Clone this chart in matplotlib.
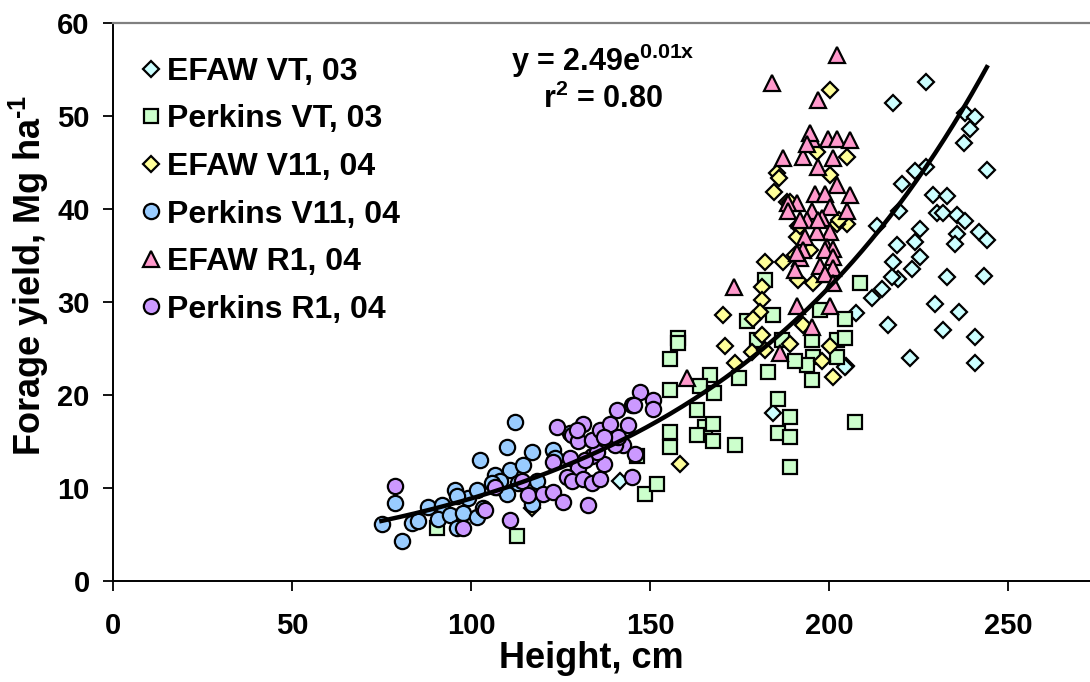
import matplotlib
matplotlib.use("Agg")
import matplotlib.pyplot as plt
import numpy as np

plt.rcParams['font.family'] = ['Liberation Sans', 'DejaVu Sans']
plt.rcParams['font.weight'] = 'bold'
plt.rcParams['mathtext.fontset'] = 'custom'
plt.rcParams['mathtext.rm'] = 'Liberation Sans:bold'
plt.rcParams['mathtext.it'] = 'Liberation Sans:bold'
plt.rcParams['mathtext.bf'] = 'Liberation Sans:bold'

# EFAW VT, 03
efaw_vt_x = [227.1, 217.9, 238.0, 240.7, 239.3, 237.7, 244.0, 227.1, 224.0, 220.2,
             219.6, 213.3, 228.9, 233.0, 230.0, 231.8, 235.6, 238.0, 225.4, 224.0,
             218.8, 235.6, 235.0, 241.7, 244.0, 225.4, 223.0, 217.9, 219.3, 217.5,
             214.7, 211.9, 233.0, 243.2, 229.6, 236.1, 216.5, 231.7, 240.7, 222.6,
             240.7, 207.5, 204.7, 184.4, 204.4, 141.7]
efaw_vt_y = [53.6, 51.3, 50.3, 49.8, 48.6, 47.1, 44.2, 44.5, 44.1, 42.7,
             39.7, 38.1, 41.5, 41.4, 39.5, 39.5, 39.3, 38.7, 37.8, 36.4,
             36.1, 37.3, 36.2, 37.5, 36.6, 34.8, 33.5, 34.3, 32.4, 32.7,
             31.4, 30.4, 32.7, 32.8, 29.8, 28.9, 27.5, 27.0, 26.2, 24.0,
             23.4, 28.8, 23.1, 18.0, 23.0, 10.7]

# Perkins VT, 03
perk_vt_x = [157.9, 157.9, 155.6, 182.1, 208.6, 177.0, 184.4, 179.8, 186.7, 195.1,
             202.1, 204.4, 204.4, 197.5, 195.6, 193.7, 190.5, 202.1, 183.0, 195.1,
             174.7, 166.8, 155.6, 164.0, 167.8, 163.0, 165.4, 167.7, 163.0, 167.7,
             155.6, 155.6, 173.7, 185.8, 189.1, 185.8, 189.1, 207.2, 189.1, 148.6,
             152.0, 112.8, 90.4, 146.3]
perk_vt_y = [26.1, 25.6, 23.9, 32.3, 32.0, 27.9, 28.6, 25.9, 25.9, 25.9,
             25.9, 26.1, 28.2, 29.1, 24.1, 23.2, 23.6, 24.1, 22.5, 21.6,
             21.8, 22.1, 20.5, 20.9, 20.2, 18.4, 16.6, 16.9, 15.7, 15.0,
             16.0, 14.4, 14.6, 19.6, 17.6, 15.9, 15.5, 17.1, 12.3, 9.4,
             10.4, 4.8, 5.7, 13.4]

# EFAW V11, 04
efaw_v11_x = [200.1, 204.9, 185.4, 185.9, 184.6, 188.2, 204.9, 191.4, 190.9, 202.1,
              196.5, 200.3, 182.1, 187.2, 189.1, 191.9, 190.5, 194.7, 202.6, 191.4,
              195.6, 181.2, 181.2, 180.7, 178.8, 170.4, 170.9, 181.2, 178.4, 182.1,
              173.7, 189.1, 192.8, 200.3, 197.9, 201.1, 158.4, 117.0]
efaw_v11_y = [52.7, 45.6, 43.8, 43.3, 41.8, 40.7, 38.4, 38.1, 37.0, 38.4,
              46.1, 43.6, 34.3, 34.3, 40.7, 38.1, 35.0, 35.6, 38.8, 32.3,
              32.0, 31.6, 30.2, 28.9, 28.2, 28.6, 25.3, 26.4, 24.6, 24.8,
              23.4, 25.5, 27.5, 25.2, 23.6, 21.9, 12.6, 7.8]

# Perkins V11, 04
perk_v11_x = [75.1, 78.8, 80.7, 83.5, 85.3, 88.1, 91.8, 90.9, 94.2, 96.0,
              95.6, 97.9, 99.3, 101.6, 101.6, 102.5, 103.4, 106.7, 107.2, 110.0,
              110.9, 110.0, 112.3, 114.6, 117.0, 117.4, 117.0, 123.0, 123.5, 118.4,
              127.6, 108.1, 105.8, 113.2, 96.0]
perk_v11_y = [6.1, 8.4, 4.3, 6.2, 6.4, 8.0, 8.2, 6.7, 7.1, 5.7,
              9.8, 7.3, 8.9, 9.8, 6.9, 13.0, 7.8, 11.4, 10.1, 14.4,
              11.9, 9.4, 17.1, 12.5, 13.9, 9.1, 8.3, 14.1, 13.2, 10.8,
              15.9, 10.8, 10.5, 10.5, 9.1]

# EFAW R1, 04
efaw_r1_x = [202.1, 184.0, 197.0, 195.1, 194.7, 199.8, 202.1, 205.8, 187.2, 192.8,
             197.0, 201.2, 193.7, 196.1, 202.1, 205.8, 198.9, 190.9, 188.6, 195.1,
             200.3, 204.9, 197.9, 193.7, 200.3, 196.7, 193.3, 199.3, 188.6, 191.9,
             197.0, 201.2, 192.8, 198.9, 191.9, 201.2, 197.5, 201.2, 190.5, 198.9,
             190.9, 198.9, 201.2, 190.9, 200.3, 195.1, 186.3, 173.3, 160.2]
efaw_r1_y = [56.5, 53.5, 51.7, 47.5, 48.1, 47.5, 47.5, 47.4, 45.4, 45.6,
             44.5, 45.4, 47.0, 41.6, 42.5, 41.5, 41.6, 40.6, 40.6, 39.7,
             40.2, 39.8, 39.0, 38.8, 37.5, 37.5, 37.0, 35.9, 39.7, 38.8,
             38.8, 35.7, 35.6, 35.6, 34.7, 34.8, 33.8, 33.6, 33.4, 33.0,
             35.2, 33.0, 32.0, 29.6, 29.6, 27.3, 24.5, 31.6, 21.8]

# Perkins R1, 04
perk_r1_x = [78.8, 97.9, 103.9, 110.9, 106.7, 114.2, 116.0, 120.2, 123.0, 125.8,
             132.8, 123.9, 128.1, 131.4, 130.0, 127.6, 130.0, 126.7, 128.1, 131.4,
             133.7, 136.0, 137.0, 133.7, 135.1, 133.7, 136.0, 138.7, 140.7, 143.9,
             144.9, 147.3, 150.9, 150.9, 142.5, 145.8, 144.9, 140.2, 141.1, 137.0,
             129.5, 131.8, 123.0, 145.4]
perk_r1_y = [10.2, 5.7, 7.6, 6.6, 10.1, 10.8, 9.2, 9.4, 9.6, 8.5,
             8.2, 16.6, 15.7, 16.9, 15.0, 13.2, 12.1, 11.2, 10.7, 11.0,
             10.5, 11.0, 12.6, 13.4, 13.9, 15.1, 16.2, 16.9, 18.4, 16.8,
             18.9, 20.3, 19.4, 18.5, 14.6, 13.7, 11.2, 14.6, 15.5, 15.5,
             16.2, 13.0, 12.8, 18.9]

# exponential trend line drawn in the original
fit_a, fit_b = 2.49, 0.0127
fit_xmin, fit_xmax = 75, 244

series = [
    ('EFAW VT, 03', efaw_vt_x, efaw_vt_y, 'D', 8.3, '#CCFFFF'),
    ('Perkins VT, 03', perk_vt_x, perk_vt_y, 's', 10.5, '#CCFFCC'),
    ('EFAW V11, 04', efaw_v11_x, efaw_v11_y, 'D', 8.3, '#FFFF99'),
    ('Perkins V11, 04', perk_v11_x, perk_v11_y, 'o', 11, '#99CCFF'),
    ('EFAW R1, 04', efaw_r1_x, efaw_r1_y, '^', 11.5, '#FF99CC'),
    ('Perkins R1, 04', perk_r1_x, perk_r1_y, 'o', 11, '#CC99FF'),
]

fig = plt.figure(figsize=(10.9, 6.82), dpi=100)
ax = fig.add_axes([0.1034, 0.148, 0.8966, 0.819])

for label, xs, ys, mk, ms, col in series:
    ax.plot(xs, ys, linestyle='none', marker=mk, markersize=ms,
            markerfacecolor=col, markeredgecolor='black', markeredgewidth=1.6,
            label=label)

xf = np.linspace(fit_xmin, fit_xmax, 200)
ax.plot(xf, fit_a * np.exp(fit_b * xf), color='black', lw=3.2, zorder=5)

ax.set_xlim(0, 272.8)
ax.set_ylim(0, 60)
ax.set_xticks([0, 50, 100, 150, 200, 250])
ax.set_yticks([0, 10, 20, 30, 40, 50, 60])
ax.tick_params(direction='out', length=7.5, width=1.3, labelsize=21)
ax.tick_params(axis='x', pad=15)
ax.tick_params(axis='y', pad=9)

for s in ['left', 'bottom']:
    ax.spines[s].set_linewidth(1.4)
ax.spines['top'].set_color('#808080')
ax.spines['top'].set_linewidth(1.6)
ax.spines['right'].set_visible(False)

ax.set_xlabel('Height, cm', fontsize=26, fontweight='bold')
ax.xaxis.set_label_coords(0.49, -0.107)
ax.set_ylabel(r'Forage yield, Mg ha$^{\text{-1}}$', fontsize=26, fontweight='bold')
ax.yaxis.set_label_coords(-0.063, 0.548)

ax.text(0.502, 0.931, 'y = 2.49e$^{0.01x}$', transform=ax.transAxes,
        ha='center', va='center', fontsize=22, fontweight='bold')
ax.text(0.502, 0.862, 'r$^{2}$ = 0.80', transform=ax.transAxes,
        ha='center', va='center', fontsize=22, fontweight='bold')

ax.legend(loc='upper left', bbox_to_anchor=(0.0195, 0.950), frameon=False,
          fontsize=23, handlelength=0.78, handletextpad=0.12, labelspacing=0.55,
          borderaxespad=0.0, borderpad=0.2, markerscale=1.0)

fig.savefig('out.png', dpi=100)
